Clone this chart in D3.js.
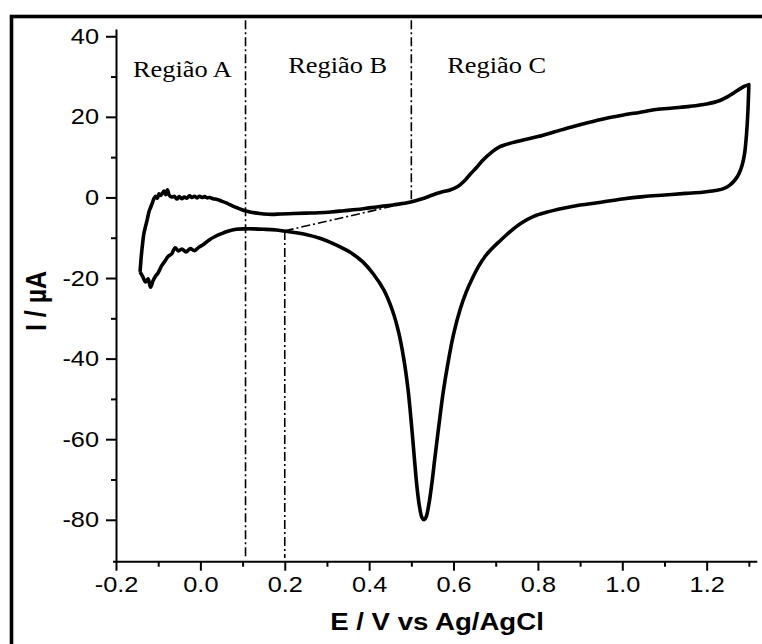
<!DOCTYPE html>
<html>
<head>
<meta charset="utf-8">
<script src="https://cdn.jsdelivr.net/npm/d3@7"></script>
<style>
  body { margin: 0; background: #fff; }
</style>
</head>
<body>
<div id="chart"></div>
<script>
// forward (anodic) scan, E in V, I in uA
const E_fwd = [-0.143,-0.140,-0.137,-0.134,-0.130,-0.126,-0.122,-0.118,-0.114,-0.110,-0.106,-0.102,-0.098,-0.094,-0.090,-0.086,-0.082,-0.078,-0.074,-0.068,-0.062,-0.056,-0.050,-0.044,-0.038,-0.032,-0.026,-0.020,-0.014,-0.008,-0.002,0.004,0.010,0.016,0.022,0.030,0.040,0.050,0.060,0.070,0.080,0.090,0.100,0.110,0.120,0.135,0.150,0.170,0.190,0.220,0.250,0.280,0.310,0.340,0.370,0.400,0.430,0.460,0.490,0.510,0.530,0.550,0.570,0.590,0.610,0.625,0.640,0.655,0.670,0.690,0.710,0.740,0.770,0.800,0.840,0.880,0.920,0.960,1.000,1.040,1.080,1.120,1.160,1.200,1.230,1.250,1.265,1.280,1.290,1.300];
const I_fwd = [-18.5,-14.5,-11.5,-9.0,-7.2,-5.5,-3.6,-2.5,-1.4,-0.3,0.3,-0.2,0.9,0.5,1.0,1.6,0.7,1.9,0.6,0.1,0.3,-0.4,0.2,-0.3,0.1,-0.2,0.4,0.0,0.3,-0.1,0.3,0.0,0.2,-0.1,0.0,-0.3,-0.5,-0.9,-1.3,-1.8,-2.3,-2.7,-3.1,-3.4,-3.7,-3.9,-4.1,-4.2,-4.1,-4.0,-3.9,-3.8,-3.6,-3.3,-3.0,-2.6,-2.2,-1.8,-1.3,-0.8,-0.2,0.6,1.3,1.8,2.7,4.0,5.8,7.5,9.3,11.2,12.6,13.6,14.4,15.1,16.3,17.5,18.6,19.6,20.4,21.1,21.8,22.2,22.6,23.2,24.0,25.0,26.0,27.0,27.6,28.0];

// reverse (cathodic) scan
const E_rev = [1.300,1.298,1.295,1.290,1.284,1.276,1.266,1.254,1.240,1.220,1.190,1.150,1.100,1.050,1.000,0.950,0.900,0.860,0.820,0.790,0.760,0.735,0.710,0.690,0.675,0.660,0.645,0.630,0.615,0.600,0.587,0.576,0.566,0.556,0.548,0.541,0.535,0.530,0.525,0.519,0.513,0.507,0.500,0.492,0.482,0.470,0.455,0.435,0.410,0.385,0.355,0.320,0.285,0.250,0.215,0.180,0.150,0.125,0.105,0.085,0.065,0.050,0.035,0.020,0.008,-0.004,-0.014,-0.024,-0.034,-0.044,-0.052,-0.060,-0.068,-0.076,-0.084,-0.092,-0.100,-0.106,-0.112,-0.118,-0.124,-0.130,-0.136,-0.143];
const I_rev = [28.0,22.0,16.5,11.0,8.0,5.8,4.2,3.0,2.2,1.7,1.3,1.0,0.6,0.2,-0.4,-1.2,-1.9,-2.7,-3.7,-4.7,-6.4,-8.4,-10.8,-12.8,-14.6,-17.0,-20.0,-23.5,-28.0,-34.0,-41,-48,-56,-64.5,-71.5,-76.5,-79.3,-80.0,-79.4,-76.5,-71.5,-64.5,-56,-47.5,-40,-33.5,-28,-23,-19,-16.0,-13.6,-11.7,-10.2,-9.2,-8.6,-8.1,-7.9,-7.8,-7.8,-7.9,-8.4,-9.0,-9.7,-10.6,-11.6,-12.4,-13.2,-12.7,-13.5,-12.8,-13.3,-12.5,-14.0,-14.6,-15.8,-17.0,-18.7,-19.5,-20.6,-22.3,-20.2,-21.0,-19.8,-18.5];

// region boundaries (vertical dash-dot lines) and the baseline extrapolation
const boundaryE = [0.107, 0.2, 0.5];
const boundaryTopI = [44, -8.3, 44];
const boundaryBottomI = [-89.5, -89.5, -1.1];
const baselineE = [0.2, 0.5];
const baselineI = [-8.3, -1.1];

const regionNames = ['Região A', 'Região B', 'Região C'];
const regionLabelE = [-0.160, 0.208, 0.585];
const regionLabelI = [29.9, 30.9, 30.9];

const xTicks = [-0.2, 0.0, 0.2, 0.4, 0.6, 0.8, 1.0, 1.2];
const xMinor = [-0.1, 0.1, 0.3, 0.5, 0.7, 0.9, 1.1, 1.3];
const yTicks = [-80, -60, -40, -20, 0, 20, 40];
const yMinor = [-70, -50, -30, -10, 10, 30];

const W = 762, H = 644;
const svg = d3.select('#chart').append('svg')
    .attr('width', W)
    .attr('height', H);

// frame (only top and left edges show in the picture)
svg.append('rect')
    .attr('x', 11.5).attr('y', 16.5)
    .attr('width', 800).attr('height', 700)
    .attr('fill', 'none')
    .attr('stroke', '#000')
    .attr('stroke-width', 3.6);

const x = d3.scaleLinear().domain([-0.2, 1.32]).range([116, 757.3]);
const y = d3.scaleLinear().domain([-90.4, 41.8]).range([561.7, 29]);

const font = 'Liberation Sans, Arial, sans-serif';
const stretch = 1.15;   // the picture is a little wider than tall in its glyphs
const hyphen = f => d => f(d).replace('\u2212', '-');

// axes
const gx = svg.append('g').attr('transform', `translate(0,${y.range()[0]})`);
gx.call(d3.axisBottom(x).tickValues(xTicks).tickSize(9).tickSizeOuter(0).tickPadding(6)
    .tickFormat(hyphen(d3.format('.1f'))));
gx.append('g').call(d3.axisBottom(x).tickValues(xMinor).tickSize(5).tickFormat(''))
  .select('.domain').remove();

const gy = svg.append('g').attr('transform', `translate(${x.range()[0]},0)`);
gy.call(d3.axisLeft(y).tickValues(yTicks).tickSize(10).tickSizeOuter(0).tickPadding(7)
    .tickFormat(hyphen(d3.format('d'))));
gy.append('g').call(d3.axisLeft(y).tickValues(yMinor).tickSize(5).tickFormat(''))
  .select('.domain').remove();

svg.selectAll('.domain').attr('stroke', '#000').attr('stroke-width', 2);
svg.selectAll('.tick line').attr('stroke', '#000').attr('stroke-width', 2);
gx.select('.domain').attr('d', `M${x.range()[0] - 3},0H${x.range()[1]}`);

svg.selectAll('.tick text')
    .attr('font-family', font)
    .attr('font-size', 22)
    .attr('fill', '#000');
gx.selectAll('.tick text').attr('transform', `scale(${stretch},1)`)
    .attr('x', 0);
gy.selectAll('.tick text')
    .attr('transform', `translate(-17,0) scale(${stretch},1)`)
    .attr('x', 0);

// axis titles
svg.append('text')
    .attr('transform', `translate(437,630) scale(${stretch},1)`)
    .attr('text-anchor', 'middle')
    .attr('font-family', font)
    .attr('font-weight', 'bold')
    .attr('font-size', 24)
    .text('E / V vs Ag/AgCl');

svg.append('text')
    .attr('transform', `translate(46,301) scale(${stretch},1) rotate(-90)`)
    .attr('text-anchor', 'middle')
    .attr('font-family', font)
    .attr('font-weight', 'bold')
    .attr('font-size', 25)
    .text('I / µA');

// region labels
svg.selectAll('.region')
  .data(regionNames)
  .join('text')
    .attr('class', 'region')
    .attr('transform', (d, i) => `translate(${x(regionLabelE[i])},${y(regionLabelI[i])}) scale(1.1,1)`)
    .attr('font-family', 'Liberation Serif, Times New Roman, serif')
    .attr('font-size', 24)
    .text(d => d);

// dash-dot guides
const dash = '9,3,2,3';
svg.selectAll('.bound')
  .data(boundaryE)
  .join('line')
    .attr('class', 'bound')
    .attr('x1', d => x(d)).attr('x2', d => x(d))
    .attr('y1', (d, i) => y(boundaryTopI[i]))
    .attr('y2', (d, i) => y(boundaryBottomI[i]))
    .attr('stroke', '#000')
    .attr('stroke-width', 1.6)
    .attr('stroke-dasharray', dash);

svg.append('line')
    .attr('x1', x(baselineE[0])).attr('y1', y(baselineI[0]))
    .attr('x2', x(baselineE[1])).attr('y2', y(baselineI[1]))
    .attr('stroke', '#000')
    .attr('stroke-width', 1.6)
    .attr('stroke-dasharray', dash);

// voltammogram
const pts = E_fwd.map((e, i) => [e, I_fwd[i]])
    .concat(E_rev.map((e, i) => [e, I_rev[i]]));
const line = d3.line()
    .x(d => x(d[0]))
    .y(d => y(d[1]))
    .curve(d3.curveCatmullRom.alpha(0.5));

svg.append('path')
    .datum(pts)
    .attr('d', line)
    .attr('fill', 'none')
    .attr('stroke', '#000')
    .attr('stroke-width', 3.6)
    .attr('stroke-linejoin', 'round');
</script>
</body>
</html>
